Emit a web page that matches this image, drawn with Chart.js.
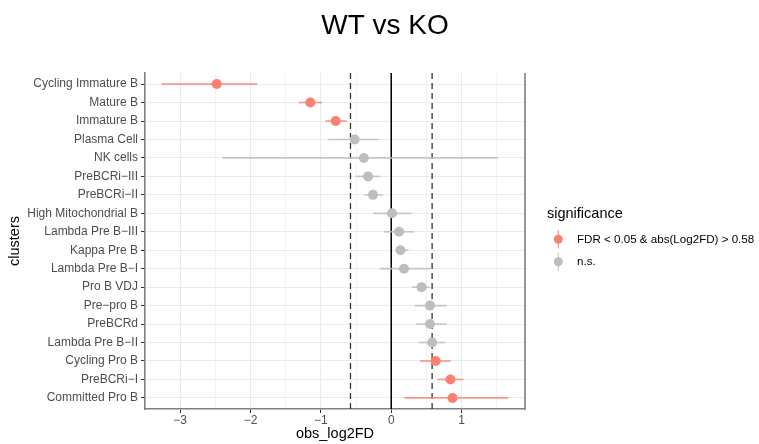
<!DOCTYPE html>
<html lang="en">
<head>
  <meta charset="UTF-8" />
  <title>WT vs KO</title>
  <script src="https://cdn.jsdelivr.net/npm/chart.js"></script>
  <style>
    html, body { margin: 0; padding: 0; background: #fff; }
    #wrap { width: 759px; height: 444px; position: relative; }
  </style>
</head>
<body>
  <div id="wrap"><canvas id="chart"></canvas></div>

  <script>
    // rows top to bottom
    const clusters = [
      'Cycling Immature B', 'Mature B', 'Immature B', 'Plasma Cell', 'NK cells',
      'PreBCRi\u2212III', 'PreBCRi\u2212II', 'High Mitochondrial B', 'Lambda Pre B\u2212III',
      'Kappa Pre B', 'Lambda Pre B\u2212I', 'Pro B VDJ', 'Pre\u2212pro B', 'PreBCRd',
      'Lambda Pre B\u2212II', 'Cycling Pro B', 'PreBCRi\u2212I', 'Committed Pro B'
    ];
    const log2FD = [-2.48, -1.15, -0.79, -0.52, -0.39, -0.33, -0.26, 0.01, 0.11,
                    0.13, 0.18, 0.43, 0.55, 0.55, 0.58, 0.63, 0.84, 0.87];
    const ciLow  = [-3.26, -1.31, -0.93, -0.89, -2.40, -0.50, -0.38, -0.25, -0.10,
                    0.07, -0.16, 0.30, 0.34, 0.36, 0.40, 0.41, 0.66, 0.19];
    const ciHigh = [-1.91, -0.99, -0.64, -0.18, 1.51, -0.16, -0.13, 0.28, 0.32,
                    0.24, 0.55, 0.54, 0.78, 0.78, 0.76, 0.84, 1.02, 1.66];
    const significant = [true, true, true, false, false, false, false, false, false,
                         false, false, false, false, false, false, true, true, true];
    const thresholds = [-0.58, 0.58];
    const xTicks = [-3, -2, -1, 0, 1];
    const xMinor = [-2.5, -1.5, -0.5, 0.5, 1.5];
    const legendLabels = ['FDR < 0.05 & abs(Log2FD) > 0.58', 'n.s.'];

    const SIG = '#FA8072';
    const NS = '#BEBEBE';
    const FONT = '"Liberation Sans", Arial, sans-serif';

    const barColor = significant.map(s => s ? 'rgba(250,128,114,0.8)' : 'rgba(190,190,190,0.85)');
    const pts = (flag) => clusters
      .map((c, i) => ({ x: log2FD[i], y: i, sig: significant[i] }))
      .filter(p => p.sig === flag);

    const vline = (x, dash, color, width) => ({
      type: 'line',
      data: [{ x: x, y: -0.6 }, { x: x, y: clusters.length - 0.4 }],
      borderColor: color,
      borderWidth: width,
      borderDash: dash,
      pointRadius: 0,
      showLine: true,
      order: 3
    });

    const extras = {
      id: 'extras',
      afterDraw(chart) {
        const ctx = chart.ctx;
        const a = chart.chartArea;
        ctx.save();
        // right panel edge
        ctx.strokeStyle = '#808080';
        ctx.lineWidth = 1.6;
        ctx.beginPath();
        ctx.moveTo(a.right, a.top);
        ctx.lineTo(a.right, a.bottom + 0.8);
        ctx.stroke();

        // title
        ctx.fillStyle = '#000';
        ctx.font = '28px ' + FONT;
        ctx.textAlign = 'center';
        ctx.textBaseline = 'alphabetic';
        ctx.fillText('WT vs KO', 385, 33.5);

        // legend
        ctx.textAlign = 'left';
        ctx.font = '14.5px ' + FONT;
        ctx.fillText('significance', 547, 218);
        const keys = [SIG, NS];
        ctx.font = '11.6px ' + FONT;
        ctx.textBaseline = 'middle';
        keys.forEach((col, k) => {
          const cy = 239.3 + k * 22.4;
          ctx.strokeStyle = col;
          ctx.globalAlpha = 0.8;
          ctx.lineWidth = 1.3;
          ctx.beginPath();
          ctx.moveTo(558.3, cy - 9);
          ctx.lineTo(558.3, cy + 9);
          ctx.stroke();
          ctx.globalAlpha = 1;
          ctx.fillStyle = col;
          ctx.beginPath();
          ctx.arc(558.3, cy, 4.5, 0, Math.PI * 2);
          ctx.fill();
          ctx.fillStyle = '#000';
          ctx.fillText(legendLabels[k], 577, cy);
        });
        ctx.restore();
      }
    };

    new Chart(document.getElementById('chart'), {
      type: 'scatter',
      data: {
        datasets: [
          {
            type: 'scatter',
            data: pts(true),
            pointRadius: 5,
            pointBackgroundColor: SIG,
            pointBorderWidth: 0,
            order: 0
          },
          {
            type: 'scatter',
            data: pts(false),
            pointRadius: 5,
            pointBackgroundColor: NS,
            pointBorderWidth: 0,
            order: 0
          },
          {
            type: 'bar',
            indexAxis: 'y',
            data: clusters.map((c, i) => ({ x: [ciLow[i], ciHigh[i]], y: i })),
            backgroundColor: barColor,
            barThickness: 1,
            borderWidth: 0,
            order: 1
          },
          vline(thresholds[0], [6, 4], '#333', 1.3),
          vline(thresholds[1], [6, 4], '#333', 1.3),
          vline(0, [], '#000', 1)
        ]
      },
      options: {
        responsive: true,
        maintainAspectRatio: false,
        animation: false,
        layout: { padding: { top: 73, right: 234, bottom: 0, left: 0 } },
        plugins: {
          legend: { display: false },
          title: { display: false },
          tooltip: { enabled: false }
        },
        scales: {
          x: {
            type: 'linear',
            min: -3.5,
            max: 1.9,
            offset: false,
            afterBuildTicks: s => {
              s.ticks = [...xTicks, ...xMinor].sort((p, q) => p - q).map(v => ({ value: v }));
            },
            afterFit: s => { s.height = 35; },
            grid: {
              offset: false,
              color: '#EBEBEB',
              lineWidth: c => xTicks.includes(c.tick.value) ? 1 : 0.6,
              tickColor: c => xTicks.includes(c.tick.value) ? '#333' : 'rgba(0,0,0,0)',
              tickLength: 4,
              tickWidth: 1
            },
            border: { display: true, color: '#808080', width: 1.6 },
            ticks: {
              autoSkip: false,
              maxRotation: 0,
              padding: 0,
              color: '#4D4D4D',
              font: { family: FONT, size: 12 },
              callback: v => xTicks.includes(v) ? String(v).replace('-', '\u2212') : ''
            },
            title: {
              display: true,
              text: 'obs_log2FD',
              color: '#000',
              font: { family: FONT, size: 14.5 },
              padding: { top: 0, bottom: 1 }
            }
          },
          y: {
            type: 'linear',
            reverse: true,
            min: -0.6,
            max: clusters.length - 0.4,
            offset: false,
            afterBuildTicks: s => {
              s.ticks = clusters.map((c, i) => ({ value: i }));
            },
            afterFit: s => { s.width = 145; },
            grid: {
              offset: false,
              color: '#EBEBEB',
              lineWidth: 1,
              tickColor: '#333',
              tickLength: 4,
              tickWidth: 1
            },
            border: { display: true, color: '#808080', width: 1.6 },
            ticks: {
              autoSkip: false,
              padding: 3,
              color: '#4D4D4D',
              font: { family: FONT, size: 12 },
              callback: v => clusters[v]
            },
            title: {
              display: true,
              text: 'clusters',
              color: '#000',
              font: { family: FONT, size: 14.5 },
              padding: { top: 6.5, bottom: 0 }
            }
          }
        }
      },
      plugins: [extras]
    });
  </script>
</body>
</html>
